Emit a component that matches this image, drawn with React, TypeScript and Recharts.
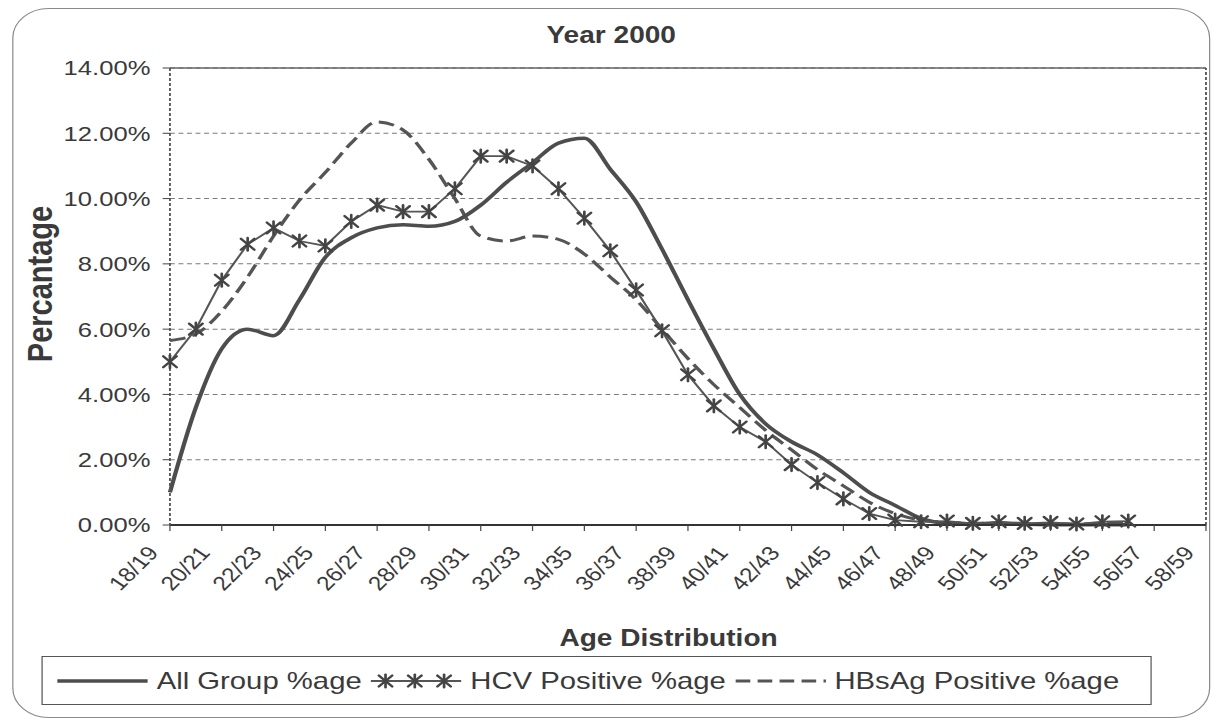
import React from 'react';
import { LineChart, Line, XAxis, YAxis, CartesianGrid, ReferenceLine } from 'recharts';

const AGES = [
  '18/19', '19/20', '20/21', '21/22', '22/23', '23/24', '24/25', '25/26', '26/27', '27/28',
  '28/29', '29/30', '30/31', '31/32', '32/33', '33/34', '34/35', '35/36', '36/37', '37/38',
  '38/39', '39/40', '40/41', '41/42', '42/43', '43/44', '44/45', '45/46', '46/47', '47/48',
  '48/49', '49/50', '50/51', '51/52', '52/53', '53/54', '54/55', '55/56', '56/57', '57/58',
  '58/59',
];

const ALL_GROUP = [
  1.0, 3.6, 5.4, 6.0, 5.8, 6.9, 8.2, 8.8, 9.1, 9.2,
  9.15, 9.3, 9.8, 10.5, 11.1, 11.7, 11.85, 10.9, 9.9, 8.45,
  6.9, 5.4, 4.0, 3.1, 2.55, 2.15, 1.6, 1.0, 0.6, 0.2,
  0.05, 0.03, 0.02, 0.02, 0.01, 0.01, 0.01, 0.01, null, null,
  null,
];

const HCV = [
  5.0, 6.0, 7.5, 8.6, 9.1, 8.7, 8.55, 9.3, 9.8, 9.6,
  9.6, 10.3, 11.3, 11.3, 11.0, 10.3, 9.4, 8.4, 7.2, 5.95,
  4.6, 3.65, 3.0, 2.55, 1.85, 1.3, 0.8, 0.35, 0.15, 0.1,
  0.12, 0.05, 0.1, 0.05, 0.08, 0.03, 0.1, 0.12, null, null,
  null,
];

const HBSAG = [
  5.65, 5.85, 6.55, 7.6, 8.85, 9.95, 10.8, 11.7, 12.35, 12.1,
  11.2, 10.0, 8.85, 8.7, 8.85, 8.75, 8.3, 7.6, 6.9, 6.0,
  5.1, 4.3, 3.6, 2.9, 2.3, 1.7, 1.2, 0.7, 0.35, 0.15,
  0.08, 0.05, 0.05, 0.05, 0.04, 0.03, 0.05, 0.05, null, null,
  null,
];

const Y_TICKS = [0, 2, 4, 6, 8, 10, 12, 14];

const FONT = '"Liberation Sans", Arial, sans-serif';
const INK = '#3a3a3a';
// the scanned original is stretched sideways, so the whole drawing is scaled on x
const STRETCH = 1.22;
const W = 1000;
const H = 727;

const rows = AGES.map((age, i) => ({ age, all: ALL_GROUP[i], hcv: HCV[i], hbs: HBSAG[i] }));

const Star = ({ cx, cy, size = 5.5 }: { cx: number; cy: number; size?: number }) => (
  <g stroke="#444" strokeWidth={2.2} strokeLinecap="round">
    <line x1={cx - size} y1={cy - size} x2={cx + size} y2={cy + size} />
    <line x1={cx - size} y1={cy + size} x2={cx + size} y2={cy - size} />
    <line x1={cx} y1={cy - size - 1} x2={cx} y2={cy + size + 1} />
  </g>
);

const hcvDot = (props: any) => {
  const { cx, cy, index, value } = props;
  if (cx == null || cy == null || value == null) return <g key={`d-${index}`} />;
  return <Star key={`d-${index}`} cx={cx} cy={cy} />;
};

// rotated a little past 45 so it reads as 45 degrees once stretched
const AgeTick = (props: any) => {
  const { x, y, payload } = props;
  return (
    <text
      transform={`translate(${x - 14},${y + 16}) rotate(-50)`}
      textAnchor="end"
      dy="0.35em"
      fontSize={20}
      fontFamily={FONT}
      fill={INK}
    >
      {payload.value}
    </text>
  );
};

const LegendSample = ({ kind }: { kind: string }) => (
  <svg width={78} height={24} style={{ display: 'block', flex: 'none' }}>
    {kind === 'all' && <line x1={2} y1={12} x2={76} y2={12} stroke="#4d4d4d" strokeWidth={3.5} />}
    {kind === 'hcv' && (
      <g>
        <line x1={2} y1={12} x2={76} y2={12} stroke="#555" strokeWidth={1.8} />
        <Star cx={14} cy={12} />
        <Star cx={38} cy={12} />
        <Star cx={62} cy={12} />
      </g>
    )}
    {kind === 'hbs' && <line x1={2} y1={12} x2={76} y2={12} stroke="#555" strokeWidth={3} strokeDasharray="12 6" />}
  </svg>
);

const LEGEND = [
  { kind: 'all', label: 'All Group %age' },
  { kind: 'hcv', label: 'HCV Positive %age' },
  { kind: 'hbs', label: 'HBsAg Positive %age' },
];

export default function App() {
  return (
    <div style={{ position: 'absolute', left: 0, top: 0, width: 1220, height: H, overflow: 'hidden', background: '#fff' }}>
      <div
        style={{
          position: 'absolute', left: 0, top: 0, width: W, height: H,
          transform: `scaleX(${STRETCH})`, transformOrigin: '0 0', fontFamily: FONT, color: INK,
        }}
      >
        <div
          style={{
            position: 'absolute', left: 10, top: 8, width: 982, height: 710, boxSizing: 'border-box',
            border: '1.5px solid #8a8a8a', borderRadius: 30,
          }}
        />
        <div style={{ position: 'absolute', left: 401, top: 22, width: 200, textAlign: 'center', fontSize: 23, fontWeight: 'bold', lineHeight: '26px' }}>
          Year 2000
        </div>

        <div style={{ position: 'absolute', left: 0, top: 0 }}>
          <LineChart width={W} height={H} data={rows} margin={{ top: 68, right: 11.5, bottom: 0, left: 39.3 }}>
            <CartesianGrid vertical={false} stroke="#7a7a7a" strokeDasharray="4 3" />
            <XAxis
              dataKey="age"
              interval={1}
              tick={<AgeTick />}
              tickSize={6}
              tickLine={{ stroke: '#444' }}
              axisLine={{ stroke: '#333', strokeWidth: 2 }}
              height={202}
            />
            <YAxis
              width={100}
              domain={[0, 14]}
              ticks={Y_TICKS}
              tickFormatter={(v: number) => `${v.toFixed(2)}%`}
              tickSize={6}
              tickMargin={10}
              tick={{ fontSize: 21, fill: INK, fontFamily: FONT }}
              tickLine={{ stroke: '#444' }}
              axisLine={{ stroke: '#555', strokeDasharray: '3 2', strokeWidth: 1.5 }}
            />
            <ReferenceLine y={14} stroke="#666" strokeWidth={1.5} />
            <ReferenceLine x="58/59" stroke="#555" strokeWidth={1.5} strokeDasharray="3 2" />
            <Line
              dataKey="hbs"
              type="monotone"
              stroke="#555"
              strokeWidth={3}
              strokeDasharray="13 6"
              dot={false}
              activeDot={false}
              isAnimationActive={false}
            />
            <Line
              dataKey="all"
              type="monotone"
              stroke="#4d4d4d"
              strokeWidth={3.5}
              dot={false}
              activeDot={false}
              isAnimationActive={false}
            />
            <Line
              dataKey="hcv"
              type="linear"
              stroke="#555"
              strokeWidth={1.8}
              dot={hcvDot}
              activeDot={false}
              isAnimationActive={false}
            />
          </LineChart>
        </div>

        <div
          style={{
            position: 'absolute', left: 33, top: 268, width: 240, height: 32, marginLeft: -120,
            transform: 'rotate(-90deg)', textAlign: 'center', fontSize: 29, fontWeight: 'bold', lineHeight: '32px',
          }}
        >
          Percantage
        </div>
        <div style={{ position: 'absolute', left: 398, top: 625, width: 300, textAlign: 'center', fontSize: 23, fontWeight: 'bold', lineHeight: '26px' }}>
          Age Distribution
        </div>

        <div
          style={{
            position: 'absolute', left: 34.4, top: 656, width: 910, height: 49, boxSizing: 'border-box',
            border: '1.5px solid #555', display: 'flex', alignItems: 'center', paddingLeft: 10,
          }}
        >
          {LEGEND.map((item) => (
            <div key={item.kind} style={{ display: 'flex', alignItems: 'center', marginRight: 6 }}>
              <LegendSample kind={item.kind} />
              <span style={{ fontSize: 24, marginLeft: 5, whiteSpace: 'nowrap' }}>{item.label}</span>
            </div>
          ))}
        </div>
      </div>
    </div>
  );
}
